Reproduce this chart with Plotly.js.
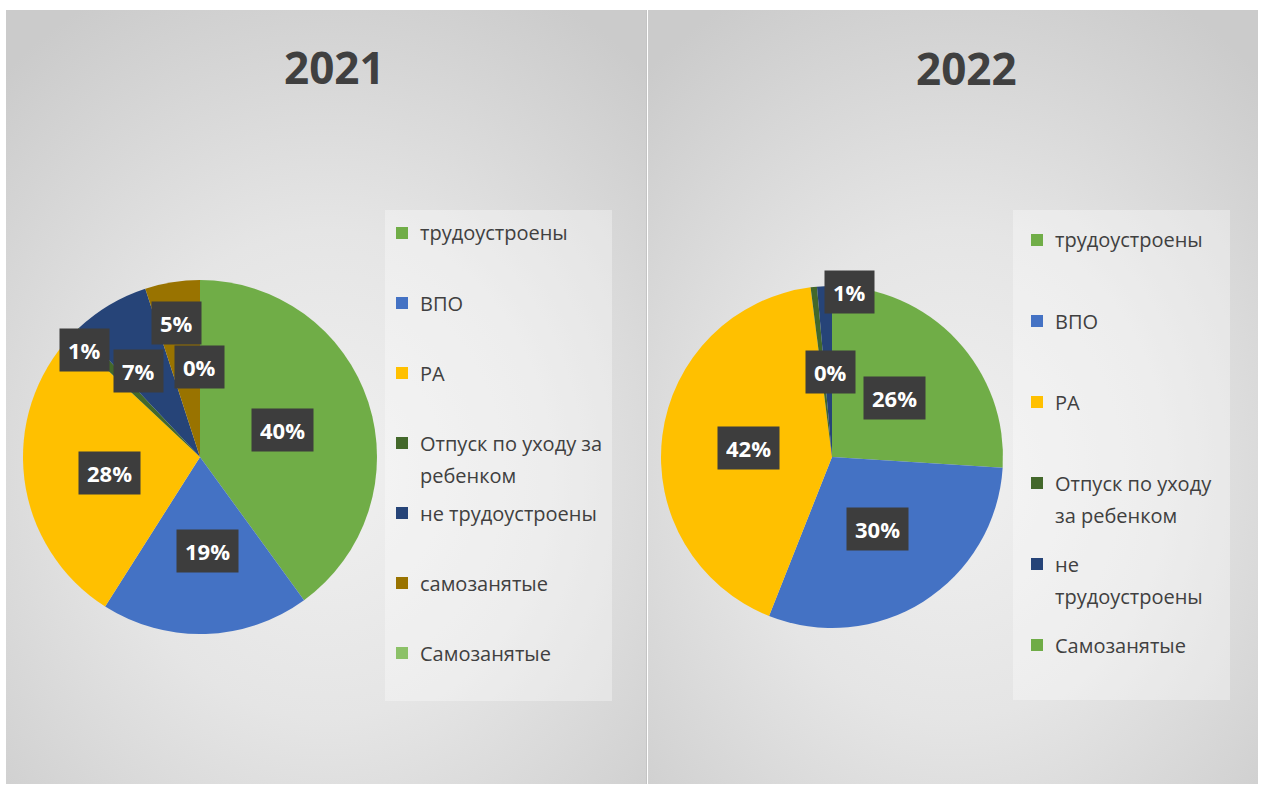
<!DOCTYPE html>
<html>
<head>
<meta charset="utf-8">
<script src="https://cdn.plot.ly/plotly-3.0.1.min.js"></script>
<style>
  html, body { margin: 0; padding: 0; background: #ffffff; }
  #wrap { position: relative; width: 1261px; height: 785px; overflow: hidden; }
  .panel { position: absolute; top: 10px; height: 774px;
    background: radial-gradient(ellipse 75% 70% at 50% 60%, #f0f0f0 0%, #e5e5e5 45%, #cbcbcb 100%); }
  #p1 { left: 6px; width: 640px; }
  #p2 { left: 648px; width: 610px; }
  #divider { position: absolute; left: 646px; top: 10px; width: 1px; height: 774px; background: #c4c4c4; }
  #chart { position: absolute; left: 0; top: 0; width: 1261px; height: 785px; }
</style>
</head>
<body>
<div id="wrap">
  <div class="panel" id="p1"></div>
  <div class="panel" id="p2"></div>
  <div id="divider"></div>
  <div id="chart"></div>
</div>
<script>
// ---------------- DATA ----------------
const titles = ["2021", "2022"];

const categories2021 = ["трудоустроены", "ВПО", "РА", "Отпуск по уходу за ребенком",
                        "не трудоустроены", "самозанятые", "Самозанятые"];
const values2021 = [40, 19, 28, 1, 7, 5, 0];

const categories2022 = ["трудоустроены", "ВПО", "РА", "Отпуск по уходу за ребенком",
                        "не трудоустроены", "Самозанятые"];
const values2022 = [26, 30, 42, 0.6, 1.4, 0];

// ---------------- STYLE ----------------
const colors2021 = ["#70AD47", "#4472C4", "#FFC000", "#43682B", "#264478", "#997300", "#8CC168"];
const colors2022 = ["#70AD47", "#4472C4", "#FFC000", "#43682B", "#264478", "#6FAC46"];

const W = 1261, H = 785;
const px = x => x / W;
const py = y => 1 - y / H;

const panels = [
  { title: titles[0], cats: categories2021, vals: values2021, cols: colors2021,
    cx: 200, cy: 457, r: 177, titleX: 334, titleY: 67,
    // per-label placement: [radius fraction, angle shift deg, mode]
    place: [[0.49, 0, 1], [0.53, -2.5, 1], [0.52, -3, 1], [0.89, -2, 1], [0.6, -5, 1], [0.77, -1, 1], [0.51, 0, 1]],
    leg: { box: [385, 210, 612, 701], sqX: 402, txtX: 418, y0: 233, step: 70, line: 32, maxChars: 18 } },
  { title: titles[1], cats: categories2022, vals: values2022, cols: colors2022,
    cx: 832, cy: 457, r: 171, titleX: 966, titleY: 68,
    place: [[0.5, 0, 1], [0.5, 0, 1], [0.49, -1, 1], [0.5, 0, 0], [0.97, 8.5, 2], [0.5, -1, 1]],
    leg: { box: [1013, 210, 1230, 700], sqX: 1037, txtX: 1053, y0: 240, step: 81, line: 32, maxChars: 15 } }
];

const FONT = "'Open Sans', 'Noto Sans', 'DejaVu Sans', sans-serif";
const data = [];
const annotations = [];
const shapes = [];

function wrap(text, maxChars) {
  const words = text.split(" ");
  const lines = [];
  let cur = "";
  words.forEach(w => {
    const t = cur ? cur + " " + w : w;
    if (t.length > maxChars && cur) { lines.push(cur); cur = w; } else { cur = t; }
  });
  if (cur) lines.push(cur);
  return lines;
}

panels.forEach(p => {
  data.push({
    type: "pie",
    labels: p.cats,
    values: p.vals,
    sort: false,
    direction: "clockwise",
    rotation: 0,
    textinfo: "none",
    hoverinfo: "label+percent",
    showlegend: false,
    marker: { colors: p.cols, line: { width: 0 } },
    domain: { x: [px(p.cx - p.r), px(p.cx + p.r)], y: [py(p.cy + p.r), py(p.cy - p.r)] }
  });

  annotations.push({
    text: "<b>" + p.title + "</b>", x: px(p.titleX), y: py(p.titleY),
    xref: "paper", yref: "paper", xanchor: "center", yanchor: "middle", showarrow: false,
    font: { family: FONT, size: 44, color: "#404040" }
  });

  const total = p.vals.reduce((a, b) => a + b, 0);
  let cum = 0;
  p.vals.forEach((v, i) => {
    const start = cum / total * 360;
    cum += v;
    const end = cum / total * 360;
    const mid = (start + end) / 2;
    const pl = p.place[i];
    if (!pl[2]) return;
    const ang = (mid + pl[1]) * Math.PI / 180;
    const lx = p.cx + pl[0] * p.r * Math.sin(ang);
    const ly = p.cy - pl[0] * p.r * Math.cos(ang);
    const txt = "<b>" + Math.round(v / total * 100) + "%</b>";
    const base = {
      text: txt, xref: "paper", yref: "paper",
      bgcolor: "#3d3d3d", borderpad: 8, height: 26,
      font: { family: FONT, size: 22, color: "#ffffff" }
    };
    if (pl[2] === 2) {
      const ma = mid * Math.PI / 180;
      const ex = p.cx + p.r * Math.sin(ma), ey = p.cy - p.r * Math.cos(ma);
      annotations.push(Object.assign(base, {
        x: px(ex), y: py(ey), ax: lx - ex, ay: ly - ey, showarrow: true,
        arrowhead: 0, arrowwidth: 1.5, arrowcolor: "#a6a6a6", standoff: 0
      }));
    } else {
      annotations.push(Object.assign(base, {
        x: px(lx), y: py(ly), xanchor: "center", yanchor: "middle", showarrow: false
      }));
    }
  });

  const L = p.leg;
  shapes.push({
    type: "rect", xref: "paper", yref: "paper",
    x0: px(L.box[0]), x1: px(L.box[2]), y0: py(L.box[3]), y1: py(L.box[1]),
    fillcolor: "rgba(255,255,255,0.33)", line: { width: 0 }, layer: "below"
  });
  p.cats.forEach((c, i) => {
    const y = L.y0 + i * L.step;
    shapes.push({
      type: "rect", xref: "paper", yref: "paper",
      x0: px(L.sqX - 6), x1: px(L.sqX + 6), y0: py(y + 6), y1: py(y - 6),
      fillcolor: p.cols[i], line: { width: 0 }
    });
    wrap(c, L.maxChars).forEach((ln, k) => {
      annotations.push({
        text: ln, x: px(L.txtX), y: py(y + k * L.line),
        xref: "paper", yref: "paper", xanchor: "left", yanchor: "middle", showarrow: false,
        font: { family: FONT, size: 20, color: "#404040" }
      });
    });
  });
});

const layout = {
  width: W, height: H,
  margin: { l: 0, r: 0, t: 0, b: 0 },
  paper_bgcolor: "rgba(0,0,0,0)",
  plot_bgcolor: "rgba(0,0,0,0)",
  showlegend: false,
  annotations: annotations,
  shapes: shapes
};

Plotly.newPlot("chart", data, layout, { displayModeBar: false, staticPlot: true });
</script>
</body>
</html>
